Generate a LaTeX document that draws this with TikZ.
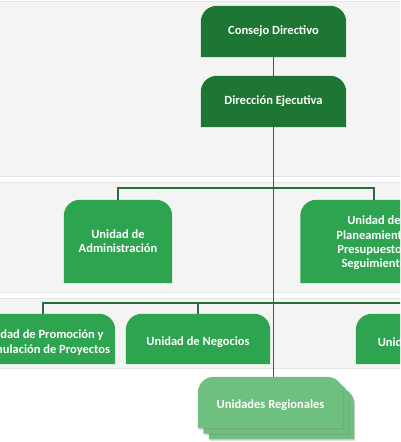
\documentclass[tikz,border=0pt]{standalone}
\usepackage{fontspec}
\setmainfont{Carlito}
\usetikzlibrary{shadows,backgrounds}
\definecolor{dkgreen}{HTML}{1E7634}
\definecolor{mdgreen}{HTML}{2EA450}
\definecolor{ltgreen}{HTML}{6FBF7F}
\definecolor{lnGreen}{HTML}{2D6A3B}
\definecolor{band}{HTML}{F4F4F4}
\definecolor{bandedge}{HTML}{E4E4E4}
\tikzset{
  unit/.style={minimum width=#1, inner sep=0pt, text=white, align=center,
    font=\fontsize{12.5}{14.3}\selectfont\bfseries},
  conn/.style={draw=lnGreen, line width=1.3pt},
  bandbox/.style={fill=band, draw=bandedge, line width=0.8pt},
}
% top-rounded box fill behind named node
\newcommand{\tfill}[3]{%
  \fill[#2,#3] (#1.south west) -- ([yshift=-16pt]#1.north west)
    arc[start angle=180,end angle=90,radius=16pt]
    -- ([xshift=-16pt]#1.north east)
    arc[start angle=90,end angle=0,radius=16pt]
    -- (#1.south east) -- cycle;}
\begin{document}
\begin{tikzpicture}[x=1pt,y=-1pt]
\useasboundingbox (0,0) rectangle (400,442);
\clip (0,0) rectangle (400,442);
% bands
\path[bandbox] (-2,1) rectangle (402,176);
\path[bandbox] (-2,182) rectangle (402,292);
\path[bandbox] (-2,298) rectangle (402,368);
% nodes
\node[unit=145pt, minimum height=51pt] (cd) at (273.5,31.5) {};
\node[unit=145pt, minimum height=51pt] (de) at (273.5,101.5) {};
\node[unit=108pt, minimum height=83pt] (ua) at (118,241.5) {};
\node[unit=147pt, minimum height=83pt] (up) at (374,241.5) {};
\node[unit=144pt, minimum height=50pt] (pr) at (43,339) {};
\node[unit=144pt, minimum height=50pt] (ne) at (198,339) {};
\node[unit=144pt, minimum height=50pt] (rt) at (428,339) {};
\node[unit=145pt, minimum height=51pt] (ur) at (270.5,402.5) {};
\node[unit=145pt, minimum height=51pt] (ur2) at (276,408) {};
\node[unit=145pt, minimum height=51pt] (ur3) at (281.5,413.5) {};
% connectors
\coordinate (b2) at (274,188);
\coordinate (b3) at (274,303);
\draw[conn] (cd.south) -- (de.north);
\draw[conn] (de.south) -- (de.south |- ur.north);
\draw[conn] (ua.north) |- (up.north |- b2) -- (up.north);
\draw[conn] (pr.north) |- (rt.north |- b3) -- (rt.north);
\draw[conn] (ne.north) -- (ne.north |- b3);
% fills
\tfill{cd}{dkgreen}{}
\tfill{de}{dkgreen}{}
\tfill{ua}{mdgreen}{}
\tfill{up}{mdgreen}{}
\tfill{pr}{mdgreen}{}
\tfill{ne}{mdgreen}{}
\tfill{rt}{mdgreen}{}
\tfill{ur3}{ltgreen}{drop shadow={shadow xshift=1pt,shadow yshift=-1.5pt,opacity=0.35}}
\tfill{ur2}{ltgreen}{drop shadow={shadow xshift=1pt,shadow yshift=-1.5pt,opacity=0.35}}
\tfill{ur}{ltgreen}{drop shadow={shadow xshift=1pt,shadow yshift=-1.5pt,opacity=0.35}}
% texts
\node[unit=140pt] at (cd) {Consejo Directivo};
\node[unit=140pt] at (de) {Dirección Ejecutiva};
\node[unit=104pt] at (ua) {Unidad de\\Administración};
\node[unit=140pt] at ([yshift=-1.5pt]up.center) {Unidad de\\Planeamiento,\\Presupuesto y\\Seguimiento};
\node[unit=140pt] at ([yshift=-3.5pt]pr.center) {Unidad de Promoción y\\Formulación de Proyectos};
\node[unit=140pt] at ([yshift=-3pt]ne.center) {Unidad de Negocios};
\node[unit=140pt] at ([yshift=-3pt]rt.center) {Unidad de Asesoría};
\node[unit=140pt] at ([yshift=-2.5pt]ur.center) {Unidades Regionales};
\end{tikzpicture}
\end{document}
